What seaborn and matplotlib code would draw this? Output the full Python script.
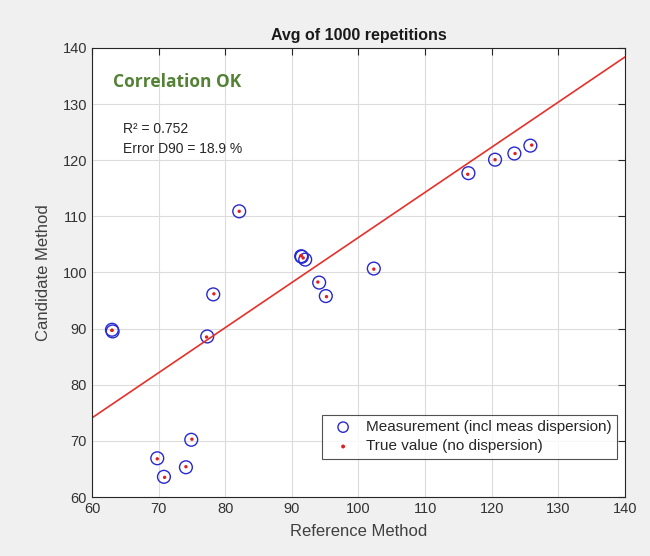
import numpy as np
import pandas as pd
import matplotlib
matplotlib.use("Agg")
import matplotlib.pyplot as plt
import seaborn as sns

# values
ref_meas = [63.0, 63.1, 69.8, 70.8, 74.1, 74.9, 77.3, 78.2, 82.1, 91.4, 91.5, 92.0, 94.1, 95.1, 102.3, 116.5, 120.5, 123.4, 125.8]
cand_meas = [89.8, 89.5, 66.9, 63.6, 65.3, 70.2, 88.6, 96.1, 110.9, 102.9, 102.8, 102.3, 98.2, 95.8, 100.7, 117.7, 120.1, 121.2, 122.6]
ref_true = [63.0, 63.0, 69.8, 70.9, 74.1, 75.0, 77.2, 78.3, 82.1, 91.4, 91.4, 91.7, 93.9, 95.2, 102.3, 116.4, 120.5, 123.5, 126.0]
cand_true = [89.7, 89.7, 66.8, 63.5, 65.4, 70.3, 88.5, 96.2, 110.9, 103.0, 103.0, 102.6, 98.3, 95.7, 100.6, 117.5, 120.1, 121.2, 122.7]
fit_x = [60, 140]
fit_y = [74.1, 138.4]

df_meas = pd.DataFrame({"ref": ref_meas, "cand": cand_meas})
df_true = pd.DataFrame({"ref": ref_true, "cand": cand_true})

sns.set_style("whitegrid")
plt.rcParams["font.family"] = ["Liberation Sans", "DejaVu Sans"]

fig = plt.figure(figsize=(6.5, 5.56), dpi=100, facecolor="#f0f0f0")
ax = fig.add_axes([0.1415, 0.1061, 0.82, 0.8076])
ax.set_facecolor("white")

sns.lineplot(x=fit_x, y=fit_y, color="#e8302a", linewidth=1.2, ax=ax, label="_nolegend_")
sns.scatterplot(data=df_meas, x="ref", y="cand", marker="o", s=85, facecolor="none",
                edgecolor="#2828d0", linewidth=1.0, ax=ax,
                label="Measurement (incl meas dispersion)")
sns.scatterplot(data=df_true, x="ref", y="cand", marker="o", s=6, color="#e02020",
                edgecolor="none", ax=ax, label="True value (no dispersion)")

ax.set_xlim(60, 140)
ax.set_ylim(60, 140)
ax.set_xticks(np.arange(60, 141, 10))
ax.set_yticks(np.arange(60, 141, 10))
ax.grid(True, color="#dcdcdc", linewidth=0.8)
for s in ax.spines.values():
    s.set_color("#262626")
    s.set_linewidth(0.8)
ax.tick_params(direction="in", length=5, width=0.8, top=True, right=True,
               labelsize=10.5, colors="#262626", labelcolor="#333333")

ax.set_title("Avg of 1000 repetitions", fontsize=11.5, fontweight="bold", color="#1a1a1a", pad=6)
ax.set_xlabel("Reference Method", fontsize=12, color="#404040", labelpad=6)
ax.set_ylabel("Candidate Method", fontsize=12, color="#404040", labelpad=8)

ax.text(0.04, 0.925, "Correlation OK", transform=ax.transAxes, fontsize=12.5,
        fontweight="bold", color="#548235", family=["Open Sans", "DejaVu Sans"],
        va="center", ha="left")
ax.text(0.058, 0.76, "R\u00b2 = 0.752\nError D90 = 18.9 %", transform=ax.transAxes,
        fontsize=10, color="#262626", va="bottom", ha="left", linespacing=1.5)

leg = ax.legend(loc="lower right", bbox_to_anchor=(0.985, 0.085), fontsize=11,
                frameon=True, fancybox=False, borderpad=0.35, handletextpad=0.5,
                labelspacing=0.35, markerscale=1.0, borderaxespad=0.0)
leg.get_frame().set_edgecolor("#262626")
leg.get_frame().set_linewidth(0.8)
handles = leg.legend_handles
handles[0].set_sizes([55])
handles[1].set_sizes([8])

fig.savefig("out.png", dpi=100, facecolor=fig.get_facecolor())
